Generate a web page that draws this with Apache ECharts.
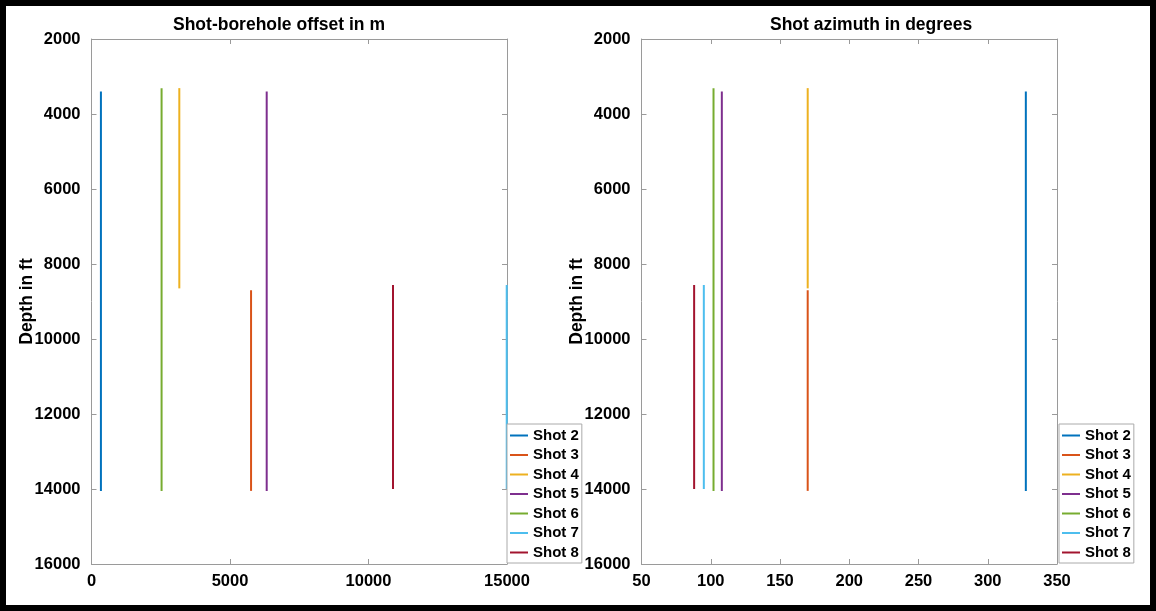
<!DOCTYPE html>
<html>
<head>
<meta charset="utf-8">
<script src="https://cdn.jsdelivr.net/npm/echarts@6/dist/echarts.min.js"></script>
<style>
html,body{margin:0;padding:0;background:#fff;}
#chart{width:1156px;height:611px;}
</style>
</head>
<body>
<div id="chart"></div>
<script>
// ---- data ----
const shots = ['Shot 2', 'Shot 3', 'Shot 4', 'Shot 5', 'Shot 6', 'Shot 7', 'Shot 8'];
const offsetM = [340, 5760, 3170, 6325, 2530, 14990, 10885];
const azimuthDeg = [327.5, 170, 170, 108, 102, 95, 88];
const depthTop = [3400, 8700, 3310, 3400, 3310, 8560, 8560];
const depthBottom = [14050, 14050, 8650, 14050, 14050, 14000, 14000];
const colors = ['#0072BD', '#D95319', '#EDB120', '#7E2F8E', '#77AC30', '#4DBEEE', '#A2142F'];
const titles = ['Shot-borehole offset in m', 'Shot azimuth in degrees'];
const yName = 'Depth in ft';

const FONT = 'Liberation Sans, Arial, sans-serif';
const AX = '#9a9a9a';
const plain = v => String(v);

function xAxisCfg(gi, min, max, interval) {
  return {
    type: 'value', gridIndex: gi, min: min, max: max, interval: interval,
    axisLine: { show: true, onZero: false, lineStyle: { color: AX, width: 1 } },
    axisTick: { show: true, inside: true, length: 5, lineStyle: { color: AX } },
    axisLabel: { color: '#000', fontWeight: 'bold', fontSize: 16.5, fontFamily: FONT, margin: 9, formatter: plain },
    splitLine: { show: false }
  };
}
function xTopCfg(gi, min, max, interval) {
  return {
    type: 'value', gridIndex: gi, min: min, max: max, interval: interval, position: 'top',
    axisLine: { show: true, onZero: false, lineStyle: { color: AX, width: 1 } },
    axisTick: { show: true, inside: true, length: 5, lineStyle: { color: AX } },
    axisLabel: { show: false }, splitLine: { show: false }
  };
}
function yAxisCfg(gi) {
  return {
    type: 'value', gridIndex: gi, min: 2000, max: 16000, interval: 2000, inverse: true,
    name: yName, nameLocation: 'middle', nameRotate: 90, nameGap: 55.5, nameMoveOverlap: false,
    nameTextStyle: { color: '#000', fontWeight: 'bold', fontSize: 17.5, fontFamily: FONT },
    axisLine: { show: true, onZero: false, lineStyle: { color: AX, width: 1 } },
    axisTick: { show: true, inside: true, length: 5, lineStyle: { color: AX } },
    axisLabel: { color: '#000', fontWeight: 'bold', fontSize: 16.5, fontFamily: FONT, margin: 11, formatter: plain },
    splitLine: { show: false }
  };
}
function yRightCfg(gi) {
  return {
    type: 'value', gridIndex: gi, min: 2000, max: 16000, interval: 2000, inverse: true, position: 'right',
    axisLine: { show: true, onZero: false, lineStyle: { color: AX, width: 1 } },
    axisTick: { show: true, inside: true, length: 5, lineStyle: { color: AX } },
    axisLabel: { show: false }, splitLine: { show: false }
  };
}

const series = [];
const xValsByGrid = [offsetM, azimuthDeg];
for (let g = 0; g < 2; g++) {
  for (let i = 0; i < shots.length; i++) {
    const xv = xValsByGrid[g][i];
    series.push({
      type: 'line', name: shots[i], xAxisIndex: g * 2, yAxisIndex: g * 2,
      data: [[xv, depthTop[i]], [xv, depthBottom[i]]],
      symbol: 'none', color: colors[i],
      lineStyle: { width: 2, color: colors[i] },
      animation: false
    });
  }
}

function legendCfg(left) {
  return {
    data: shots, orient: 'vertical', left: left, top: 424,
    icon: 'rect', itemWidth: 18, itemHeight: 2, itemGap: 4.5,
    padding: [4, 3, 3, 3],
    backgroundColor: '#fff', borderColor: '#aaa', borderWidth: 1, borderRadius: 0,
    textStyle: { color: '#000', fontWeight: 'bold', fontSize: 15, fontFamily: FONT, lineHeight: 15 },
    selectedMode: false
  };
}

const chart = echarts.init(document.getElementById('chart'), null, { renderer: 'canvas' });
chart.setOption({
  animation: false,
  backgroundColor: '#fff',
  color: colors,
  title: [
    { text: titles[0], left: 173, top: 16, padding: 0,
      textStyle: { color: '#000', fontWeight: 'bold', fontSize: 17.5, fontFamily: FONT } },
    { text: titles[1], left: 770, top: 16, padding: 0,
      textStyle: { color: '#000', fontWeight: 'bold', fontSize: 17.5, fontFamily: FONT } }
  ],
  grid: [
    { left: 91.5, top: 39, width: 415.5, height: 525, containLabel: false },
    { left: 641.5, top: 39, width: 415.5, height: 525, containLabel: false }
  ],
  xAxis: [
    xAxisCfg(0, 0, 15000, 5000), xTopCfg(0, 0, 15000, 5000),
    xAxisCfg(1, 50, 350, 50), xTopCfg(1, 50, 350, 50)
  ],
  yAxis: [
    yAxisCfg(0), yRightCfg(0),
    yAxisCfg(1), yRightCfg(1)
  ],
  legend: [legendCfg(507), legendCfg(1059)],
  series: series,
  graphic: [
    { type: 'rect', shape: { x: 3, y: 3, width: 1150, height: 605 },
      style: { fill: 'none', stroke: '#000', lineWidth: 6 }, z: 100, silent: true }
  ]
});
</script>
</body>
</html>
